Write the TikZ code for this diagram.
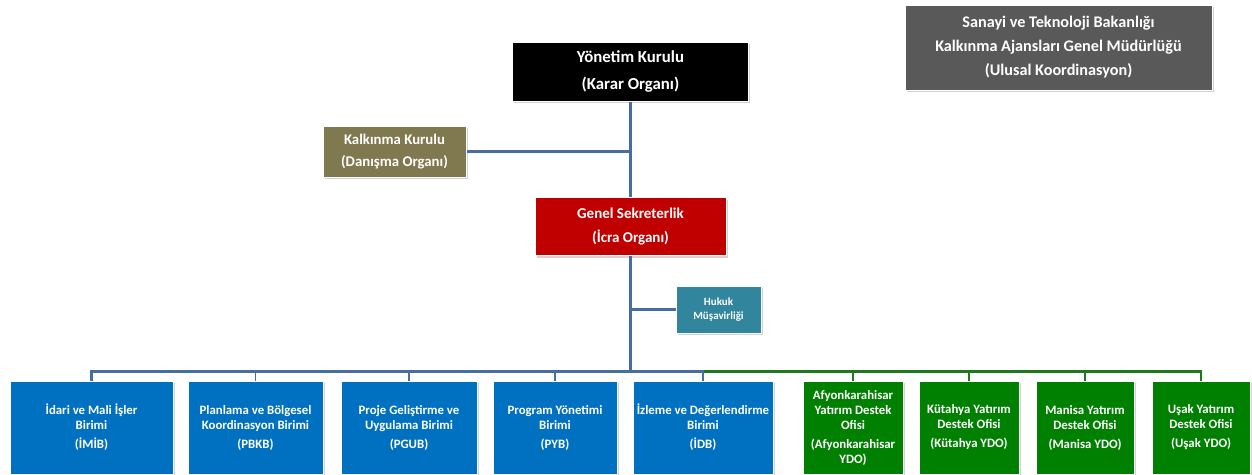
\documentclass[tikz,border=0pt]{standalone}
\usepackage{fontspec}
\setmainfont{Carlito}
\usetikzlibrary{shadows}
\definecolor{cblack}{RGB}{0,0,0}
\definecolor{colive}{RGB}{128,120,78}
\definecolor{cred}{RGB}{192,0,0}
\definecolor{cteal}{RGB}{49,133,156}
\definecolor{cgray}{RGB}{89,89,89}
\definecolor{cblue}{RGB}{0,112,192}
\definecolor{cgreen}{RGB}{0,128,0}
\definecolor{lblue}{RGB}{70,110,160}
\definecolor{lgreen}{RGB}{30,120,30}
\tikzset{
  box/.style={rectangle, draw=white, line width=1pt, text=white, align=center,
    inner sep=0pt, font=\bfseries,
    drop shadow={shadow xshift=1.5pt, shadow yshift=-2pt, fill=black!22, opacity=0.8}},
  unit/.style={box, minimum height=93pt, font=\bfseries\fontsize{12.8}{15}\selectfont},
  bunit/.style={unit, fill=cblue},
  gunit/.style={unit, fill=cgreen},
  bline/.style={draw=lblue, line width=2.4pt},
  gline/.style={draw=lgreen, line width=2.4pt},
  tick/.style={line width=1.8pt},
}
\begin{document}
\begin{tikzpicture}[x=1pt,y=-1pt]
\useasboundingbox[fill=white] (0,0) rectangle (1252,474);

\node[box, fill=cgray, minimum width=307pt, minimum height=85pt,
  font=\bfseries\fontsize{16.2}{24}\selectfont] (tr) at (1058.5,47.5)
  {Sanayi ve Teknoloji Bakanlığı\\Kalkınma Ajansları Genel Müdürlüğü\\(Ulusal Koordinasyon)};

\node[box, fill=cblack, minimum width=236pt, minimum height=59pt,
  font=\bfseries\fontsize{16.8}{27}\selectfont] (yk) at (630.5,71.5)
  {Yönetim Kurulu\\(Karar Organı)};

\node[box, fill=colive, minimum width=143pt, minimum height=51pt,
  font=\bfseries\fontsize{14.8}{22}\selectfont] (kk) at (394.5,151.5)
  {Kalkınma Kurulu\\(Danışma Organı)};

\node[box, fill=cred, minimum width=191pt, minimum height=58pt,
  font=\bfseries\fontsize{15}{24}\selectfont] (gs) at (630.5,226.5)
  {Genel Sekreterlik\\(İcra Organı)};

\node[box, fill=cteal, minimum width=85pt, minimum height=47pt,
  font=\bfseries\fontsize{11}{13.5}\selectfont] (hm) at (718.5,309.5)
  {Hukuk\\Müşavirliği};

\node[bunit, minimum width=163pt] (b1) at (91.5,427.5) {İdari ve Mali İşler\\Birimi\\[4pt](İMİB)};
\node[bunit, minimum width=135pt] (b2) at (255.5,427.5) {Planlama ve Bölgesel\\Koordinasyon Birimi\\[4pt](PBKB)};
\node[bunit, minimum width=136pt] (b3) at (409,427.5) {Proje Geliştirme ve\\Uygulama Birimi\\[4pt](PGUB)};
\node[bunit, minimum width=124pt] (b4) at (555,427.5) {Program Yönetimi\\Birimi\\[4pt](PYB)};
\node[bunit, minimum width=140pt] (b5) at (703,427.5) {İzleme ve Değerlendirme\\Birimi\\[4pt](İDB)};

\node[gunit, minimum width=100pt] (g1) at (853,427.5) {Afyonkarahisar\\Yatırım Destek\\Ofisi\\[4pt](Afyonkarahisar\\YDO)};
\node[gunit, minimum width=100pt] (g2) at (969,427.5) {Kütahya Yatırım\\Destek Ofisi\\[4pt](Kütahya YDO)};
\node[gunit, minimum width=98pt] (g3) at (1085,427.5) {Manisa Yatırım\\Destek Ofisi\\[4pt](Manisa YDO)};
\node[gunit, minimum width=98pt] (g4) at (1201,427.5) {Uşak Yatırım\\Destek Ofisi\\[4pt](Uşak YDO)};

\coordinate (bus) at ([yshift=9pt]b1.north);

% connectors
\draw[bline] (yk.south) -- (gs.north);
\draw[bline] (kk.east) -- (kk.east -| yk.south);
\draw[bline] (gs.south) -- (gs.south |- bus);
\draw[bline] (hm.west) -- (hm.west -| gs.south);
\draw[gline] ([yshift=9pt]b5.north) -| (g4.north);
\foreach \n in {g1,g2,g3} \draw[gline,tick] (\n.north) -- ([yshift=9pt]\n.north);
\draw[bline] (b1.north) -- (bus) -| (b5.north);
\foreach \n in {b2,b3,b4} \draw[bline,tick] (\n.north) -- ([yshift=9pt]\n.north);
\end{tikzpicture}
\end{document}
